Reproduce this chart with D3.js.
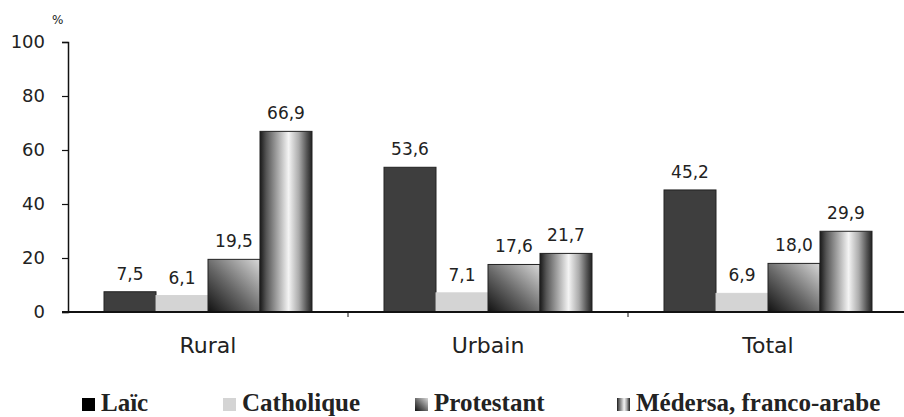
<!DOCTYPE html>
<html>
<head>
<meta charset="utf-8">
<script src="https://cdn.jsdelivr.net/npm/d3@7"></script>
<style>
  body { margin:0; background:#fff; }
  svg text { font-family: "DejaVu Sans", sans-serif; fill:#222; }
</style>
</head>
<body>
<div id="chart"></div>
<script>
// data
const categories = ['Rural', 'Urbain', 'Total'];
const series = ['Laïc', 'Catholique', 'Protestant', 'Médersa, franco-arabe'];
const laic = [7.5, 53.6, 45.2];
const catholique = [6.1, 7.1, 6.9];
const protestant = [19.5, 17.6, 18.0];
const medersa = [66.9, 21.7, 29.9];
const yTicks = [0, 20, 40, 60, 80, 100];

const values = [laic, catholique, protestant, medersa];
const data = categories.map((c, i) => ({
    cat: c,
    vals: series.map((s, j) => ({key: s, idx: j, value: values[j][i]}))
}));

const W = 904, H = 417;
const margin = {top: 42, right: -4, bottom: 105, left: 68};
const width = W - margin.left - margin.right;
const height = H - margin.top - margin.bottom;

const svg = d3.select('#chart').append('svg')
    .attr('width', W).attr('height', H);

// gradients
const defs = svg.append('defs');
const gProt = defs.append('linearGradient').attr('id', 'gProt')
    .attr('x1', '0').attr('y1', '1').attr('x2', '1').attr('y2', '0');
gProt.append('stop').attr('offset', '0%').attr('stop-color', '#111');
gProt.append('stop').attr('offset', '45%').attr('stop-color', '#666');
gProt.append('stop').attr('offset', '100%').attr('stop-color', '#d8d8d8');

const gMed = defs.append('linearGradient').attr('id', 'gMed')
    .attr('x1', '0').attr('y1', '0').attr('x2', '1').attr('y2', '0');
[['0%', '#1a1a1a'], ['12%', '#555'], ['35%', '#aaa'], ['55%', '#f4f4f4'], ['75%', '#aaa'], ['90%', '#555'], ['100%', '#222']]
    .forEach(s => gMed.append('stop').attr('offset', s[0]).attr('stop-color', s[1]));

const fills = ['#3e3e3e', '#d4d4d4', 'url(#gProt)', 'url(#gMed)'];
const strokes = ['#222', '#d4d4d4', '#222', '#222'];

const g = svg.append('g').attr('transform', `translate(${margin.left},${margin.top})`);

const x0 = d3.scaleBand().domain(categories).range([0, width]);
const x1 = d3.scaleBand().domain(series).range([36, 244]);
const y = d3.scaleLinear().domain([0, 100]).range([height, 0]);

// y axis
const yAxis = d3.axisLeft(y).tickValues(yTicks).tickSize(6).tickPadding(17);
g.append('g').attr('class', 'y axis')
    .call(yAxis)
    .call(a => a.select('.domain').attr('stroke', '#111').attr('stroke-width', 1.5))
    .call(a => a.selectAll('line').attr('stroke', '#111').attr('stroke-width', 1.2))
    .selectAll('text')
    .style('font-size', '18px')
    .style('font-family', '"DejaVu Sans", sans-serif')
    .attr('fill', '#222');

g.append('text')
    .attr('x', -16).attr('y', -18)
    .style('font-size', '12px')
    .text('%');

// bars
const groups = g.selectAll('.grp')
    .data(data)
    .enter().append('g')
    .attr('class', 'grp')
    .attr('transform', d => `translate(${x0(d.cat)},0)`);

groups.selectAll('rect')
    .data(d => d.vals)
    .enter().append('rect')
    .attr('x', d => x1(d.key))
    .attr('y', d => y(d.value))
    .attr('width', x1.bandwidth())
    .attr('height', d => y(0) - y(d.value))
    .attr('fill', d => fills[d.idx])
    .attr('stroke', d => strokes[d.idx])
    .attr('stroke-width', 1);

groups.selectAll('.label')
    .data(d => d.vals)
    .enter().append('text')
    .attr('class', 'label')
    .attr('x', d => x1(d.key) + x1.bandwidth() / 2)
    .attr('y', d => y(d.value) - 12)
    .attr('text-anchor', 'middle')
    .style('font-size', '17px')
    .text(d => d.value.toFixed(1).replace('.', ','));

// x axis
const xAxis = d3.axisBottom(x0).tickSize(0).tickPadding(25);
g.append('g').attr('class', 'x axis')
    .attr('transform', `translate(0,${height})`)
    .call(xAxis)
    .call(a => a.select('.domain').attr('stroke', '#111').attr('stroke-width', 2).attr('d', `M-6,0H${width}`))
    .selectAll('text')
    .style('font-size', '22px')
    .style('font-family', '"DejaVu Sans", sans-serif')
    .attr('fill', '#222');

// small separators between categories
g.append('g').selectAll('line')
    .data(categories.slice(1))
    .enter().append('line')
    .attr('x1', d => x0(d)).attr('x2', d => x0(d))
    .attr('y1', height).attr('y2', height + 5)
    .attr('stroke', '#111');

// legend
const legX = [82, 223, 415, 617];
const legend = svg.append('g').attr('class', 'legend');
const items = legend.selectAll('g')
    .data(series)
    .enter().append('g')
    .attr('transform', (d, i) => `translate(${legX[i]},398)`);

items.append('rect')
    .attr('width', 13).attr('height', 13)
    .attr('fill', (d, i) => i === 0 ? '#000' : fills[i]);

items.append('text')
    .attr('x', 19).attr('y', 13)
    .style('font-family', '"Liberation Serif", "Times New Roman", serif')
    .style('font-weight', 'bold')
    .style('font-size', '25px')
    .attr('fill', '#000')
    .text(d => d);
</script>
</body>
</html>
